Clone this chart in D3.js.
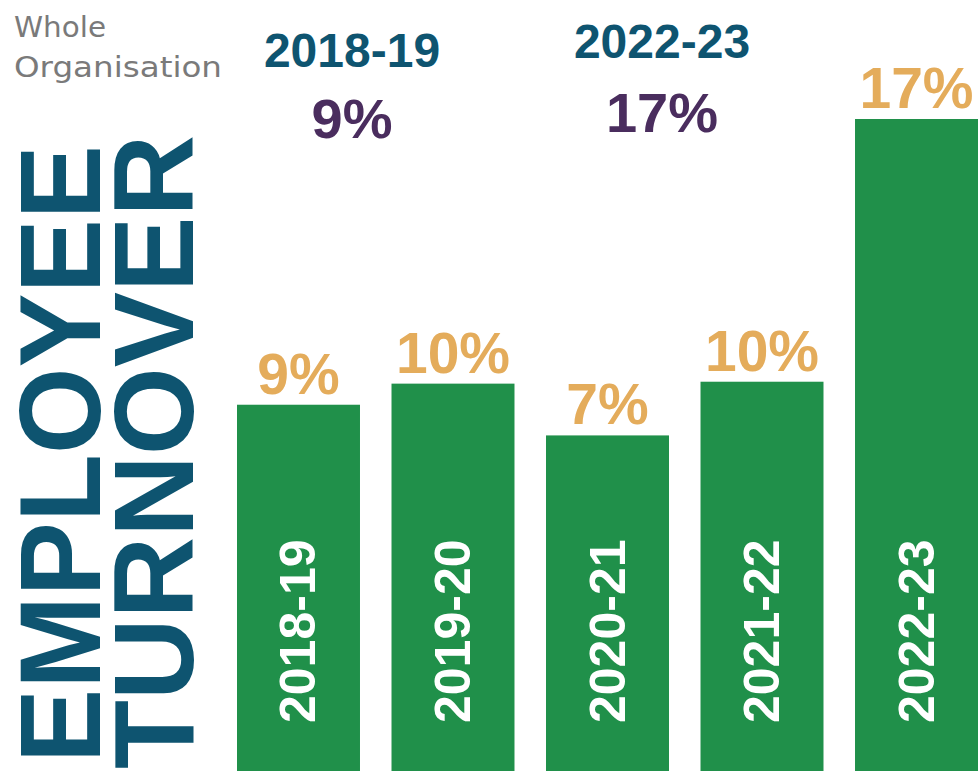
<!DOCTYPE html>
<html>
<head>
<meta charset="utf-8">
<script src="https://cdn.jsdelivr.net/npm/d3@7"></script>
<style>
  html, body { margin: 0; padding: 0; background: #fff; }
  svg { display: block; }
</style>
</head>
<body>
<div class="chartHolder"></div>
<script>
// data
const years = ["2018-19", "2019-20", "2020-21", "2021-22", "2022-23"];
// bar heights as drawn (percent scale)
const barValues = [9.55, 10.1, 8.75, 10.15, 17.0];
// percentages printed above each bar
const pctLabels = ["9%", "10%", "7%", "10%", "17%"];
// headline comparison at the top
const headYears = ["2018-19", "2022-23"];
const headPct = ["9%", "17%"];

const w = 979, h = 771;
const green = "#20904a", gold = "#e4ac5b", teal = "#0e5470", plum = "#4a2d5e";

const svg = d3.select(".chartHolder").append("svg")
  .attr("width", w)
  .attr("height", h);

// x scale for the bars
const xScale = d3.scaleBand()
  .domain(years)
  .range([237, 978])
  .paddingInner(0.204)
  .paddingOuter(0);

// y scale, bars run to the bottom edge
const yScale = d3.scaleLinear()
  .domain([0, 17])
  .range([h, 119]);

// bars
svg.selectAll("rect.bar")
  .data(years)
  .enter()
  .append("rect")
  .attr("class", "bar")
  .attr("x", d => xScale(d))
  .attr("y", (d, i) => yScale(barValues[i]))
  .attr("width", xScale.bandwidth())
  .attr("height", (d, i) => h - yScale(barValues[i]))
  .attr("fill", green);

// percent above bars
svg.selectAll("text.pct")
  .data(years)
  .enter()
  .append("text")
  .attr("class", "pct")
  .attr("x", d => xScale(d) + xScale.bandwidth() / 2)
  .attr("y", (d, i) => yScale(barValues[i]) - 11)
  .attr("text-anchor", "middle")
  .attr("font-family", "Liberation Sans, Arial, sans-serif")
  .attr("font-weight", "bold")
  .attr("font-size", 57)
  .attr("fill", gold)
  .text((d, i) => pctLabels[i]);

// year labels inside bars, rotated
svg.selectAll("text.yr")
  .data(years)
  .enter()
  .append("text")
  .attr("class", "yr")
  .attr("transform", d => `translate(${xScale(d) + xScale.bandwidth() / 2 + 17},723) rotate(-90)`)
  .attr("text-anchor", "start")
  .attr("font-family", "Liberation Sans, Arial, sans-serif")
  .attr("font-weight", "bold")
  .attr("font-size", 50)
  .attr("fill", "#fff")
  .text(d => d);

// big vertical title
const title = svg.append("g")
  .attr("font-family", "Liberation Sans, Arial, sans-serif")
  .attr("font-weight", "bold")
  .attr("fill", teal);

title.append("text")
  .attr("transform", "translate(100,763) rotate(-90)")
  .attr("font-size", 115)
  .attr("textLength", 618)
  .attr("lengthAdjust", "spacingAndGlyphs")
  .text("EMPLOYEE");

title.append("text")
  .attr("transform", "translate(193,769) rotate(-90)")
  .attr("font-size", 113)
  .attr("textLength", 634)
  .attr("lengthAdjust", "spacingAndGlyphs")
  .text("TURNOVER");

// headline: years and percentages
const headX = [352, 662];
headYears.forEach((yr, i) => {
  svg.append("text")
    .attr("x", headX[i])
    .attr("y", i === 0 ? 67 : 58)
    .attr("text-anchor", "middle")
    .attr("font-family", "Liberation Sans, Arial, sans-serif")
    .attr("font-weight", "bold")
    .attr("font-size", 48)
    .attr("fill", teal)
    .text(yr);

  svg.append("text")
    .attr("x", headX[i])
    .attr("y", i === 0 ? 138 : 132)
    .attr("text-anchor", "middle")
    .attr("font-family", "Liberation Sans, Arial, sans-serif")
    .attr("font-weight", "bold")
    .attr("font-size", 56)
    .attr("fill", plum)
    .text(headPct[i]);
});

// handwritten note top left
const note = svg.append("g")
  .attr("font-family", "Segoe Print, Comic Sans MS, DejaVu Sans, cursive")
  .attr("font-size", 29)
  .attr("fill", "#7a7a7a");

note.append("text")
  .attr("x", 14)
  .attr("y", 37)
  .attr("textLength", 92)
  .attr("lengthAdjust", "spacingAndGlyphs")
  .text("Whole");

note.append("text")
  .attr("x", 14)
  .attr("y", 77)
  .attr("textLength", 208)
  .attr("lengthAdjust", "spacingAndGlyphs")
  .text("Organisation");
</script>
</body>
</html>
